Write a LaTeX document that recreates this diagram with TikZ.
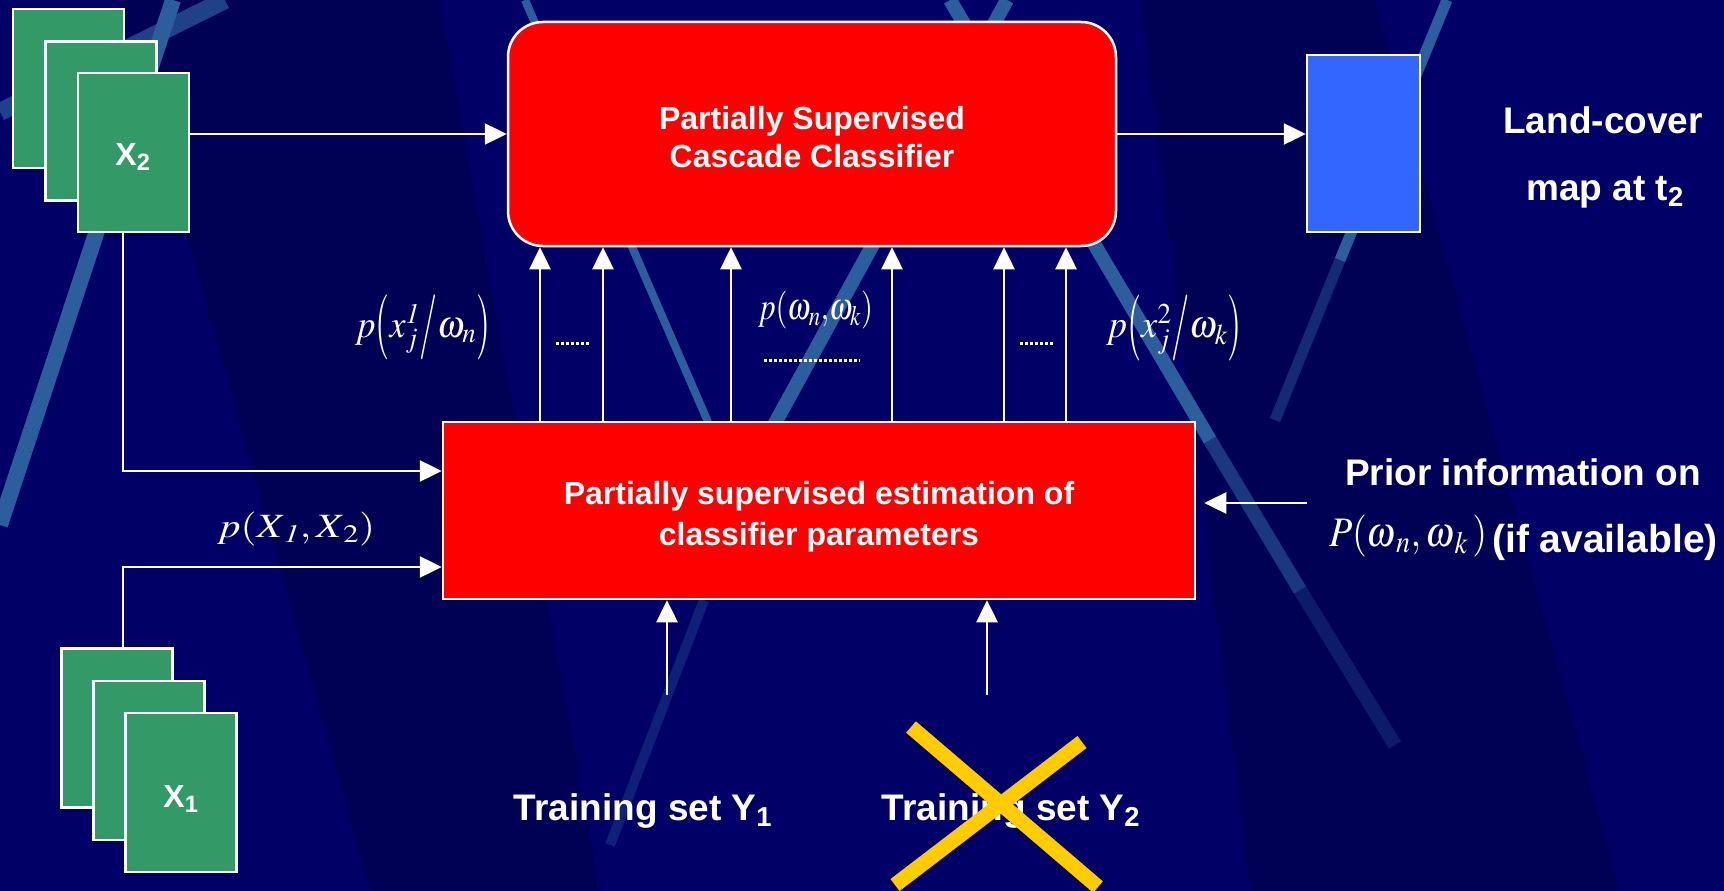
\documentclass[tikz,border=0pt]{standalone}
\usepackage{mathptmx}
\usepackage[no-math]{fontspec}
\setmainfont{Liberation Serif}
\setsansfont{Liberation Sans}
\usetikzlibrary{arrows.meta,calc}
\definecolor{bgnavy}{RGB}{0,0,102}
\definecolor{bgdark}{RGB}{0,0,84}
\definecolor{stripecol}{RGB}{44,94,158}
\definecolor{sheetgreen}{RGB}{51,153,102}
\definecolor{mapblue}{RGB}{51,102,255}
\definecolor{boxred}{RGB}{255,0,0}
\definecolor{crossyellow}{RGB}{255,204,0}
\newcommand{\tallp}[1]{\vcenter{\hbox{\scalebox{1}[1.7]{$#1$}}}}
\tikzset{
  arr/.style={draw=white, line width=2.5pt, -{Triangle[length=22pt,width=21pt]}},
  sheet/.style={draw=white, line width=2.5pt, fill=sheetgreen, minimum width=111pt, minimum height=159pt, inner sep=0pt},
  lbl/.style={text=white, inner sep=0pt, font=\sffamily\bfseries\fontsize{37}{44}\selectfont},
  xlbl/.style={text=white, inner sep=0pt, font=\sffamily\bfseries\fontsize{32}{38}\selectfont},
  redbox/.style={draw=white, line width=2.5pt, fill=boxred, inner sep=0pt},
  boxtxt/.style={text=white, align=center, inner sep=0pt},
  mathlbl/.style={text=white, inner sep=0pt, font=\fontsize{40}{48}\selectfont},
  stripeline/.style={draw=stripecol, line width=14pt, line cap=butt},
  dotline/.style={draw=white, line width=3pt, dash pattern=on 3pt off 2pt},
  crossline/.style={draw=crossyellow, line width=15pt, line cap=butt},
}
\begin{document}
\begin{tikzpicture}[x=1pt,y=-1pt]
\useasboundingbox (0,0) rectangle (1724,891);
% background
\fill[bgnavy] (0,0) rectangle (1724,891);
\fill[bgdark] (121,0) -- (440,0) -- (600,891) -- (370,891) -- cycle;
\fill[bgdark] (1140,0) -- (1375,0) -- (1620,891) -- (1250,891) -- cycle;
% stripes
\draw[stripeline, line width=16pt] (173,0) -- (0,525);
\draw[stripeline, line width=18pt, draw opacity=0.7] (0,112) -- (225,0);
\draw[stripeline, line width=8pt] (525,0) -- (708,422);
\draw[stripeline] (1007,0) -- (700,560);
\draw[stripeline, line width=10pt, draw opacity=0.35] (704,600) -- (610,845);
\draw[stripeline] (950,0) -- (1210,440);
\draw[stripeline, draw opacity=0.6] (1210,440) -- (1300,590);
\draw[stripeline, draw opacity=0.3] (1300,590) -- (1395,745);
\draw[stripeline, line width=11pt] (1447,0) -- (1340,260);
\draw[stripeline, line width=11pt, draw opacity=0.45] (1340,260) -- (1275,420);

% X2 stack
\node[sheet] (x2a) at (68.5,88.5) {};
\node[sheet] (x2b) at (101,121) {};
\node[sheet] (x2c) at (133.5,152.5) {};
\node[xlbl, anchor=base] (x2t) at (133,165) {X\textsubscript{2}};

% X1 stack
\node[sheet] (x1a) at (117,728) {};
\node[sheet] (x1b) at (149,760.5) {};
\node[sheet] (x1c) at (181,792.5) {};
\node[xlbl, anchor=base] (x1t) at (181,807) {X\textsubscript{1}};

% main boxes
\node[redbox, rounded corners=35pt, minimum width=608pt, minimum height=224pt] (clf) at (812,134) {};
\node[boxtxt, font=\sffamily\bfseries\fontsize{32}{38}\selectfont] (clft) at (812,137)
      {Partially Supervised\\Cascade Classifier};
\node[redbox, minimum width=752pt, minimum height=177pt] (est) at (819,510.5) {};
\node[boxtxt, font=\sffamily\bfseries\fontsize{32}{41}\selectfont] (estt) at (819,517)
      {Partially supervised estimation of\\classifier parameters};
\node[draw=white, line width=2.5pt, fill=mapblue, minimum width=113pt, minimum height=177pt, inner sep=0pt] (map) at (1363.5,143.5) {};

% labels
\node[lbl, anchor=base] (lc1) at (1603,133) {Land-cover};
\node[lbl, anchor=base] (lc2) at (1605,200) {map at t\textsubscript{2}};
\node[lbl, anchor=base] (prior1) at (1523,485) {Prior information on};
\node[mathlbl] (prior2m) at (1408,536) {\resizebox*{158pt}{42pt}{$P(\omega_{\,n},\omega_{\,k}\,)$}};
\node[lbl, anchor=base, font=\sffamily\bfseries\fontsize{39}{44}\selectfont] (prior2) at (1605,552) {(if available)};
\node[lbl, anchor=base] (ty1t) at (643,820) {Training set Y\textsubscript{1}};
\node[lbl, anchor=base] (ty2t) at (1011,820) {Training set Y\textsubscript{2}};

\node[mathlbl] (pl1) at (422.5,327.5) {\resizebox*{135pt}{65pt}{$p\tallp{(}x_j^{\mathit{1}}\tallp{/}\omega_n\tallp{)}$}};
\node[mathlbl] (pnk) at (815.5,310) {\resizebox*{115pt}{38pt}{$p(\omega_n{,}\omega_k)$}};
\node[mathlbl] (pl2) at (1174,328) {\resizebox*{136pt}{66pt}{$p\tallp{(}x_j^{2}\tallp{/}\omega_k\tallp{)}$}};
\node[mathlbl] (pxx) at (296,529) {\resizebox*{158pt}{34pt}{$p(X_{\,\mathit{1}},X_{\,2})$}};

% dotted ellipses
\draw[dotline] (556,343) -- (589,343);
\draw[dotline] (1020,343) -- (1053,343);
\draw[dotline] (764,360) -- (860,360);

% connectors
\draw[arr] (x2c.east |- clf.west) -- (clf.west);
\draw[arr] (clf.east) -- (clf.east -| map.west);
\draw[arr] ([xshift=-10.5pt]x2c.south) |- ([yshift=39.5pt]est.west);
\draw[arr] ([xshift=6pt]x1a.north) |- ([yshift=-56.5pt]est.west);
\foreach \xx in {540,603,731,892,1004,1066}
  \draw[arr] (est.north -| \xx,0) -- (clf.south -| \xx,0);
\coordinate (ty1) at (667,695);
\coordinate (ty2) at (987,695);
\draw[arr] (ty1) -- (ty1 |- est.south);
\draw[arr] (ty2) -- (ty2 |- est.south);
\coordinate (pri) at (1307,503);
\draw[arr] (pri) -- ($(est.east |- pri)+(8,0)$);

% cross over Y2
\draw[crossline] (911,727) -- (1098,887);
\draw[crossline] (1082,742) -- (895,885);
\end{tikzpicture}
\end{document}
